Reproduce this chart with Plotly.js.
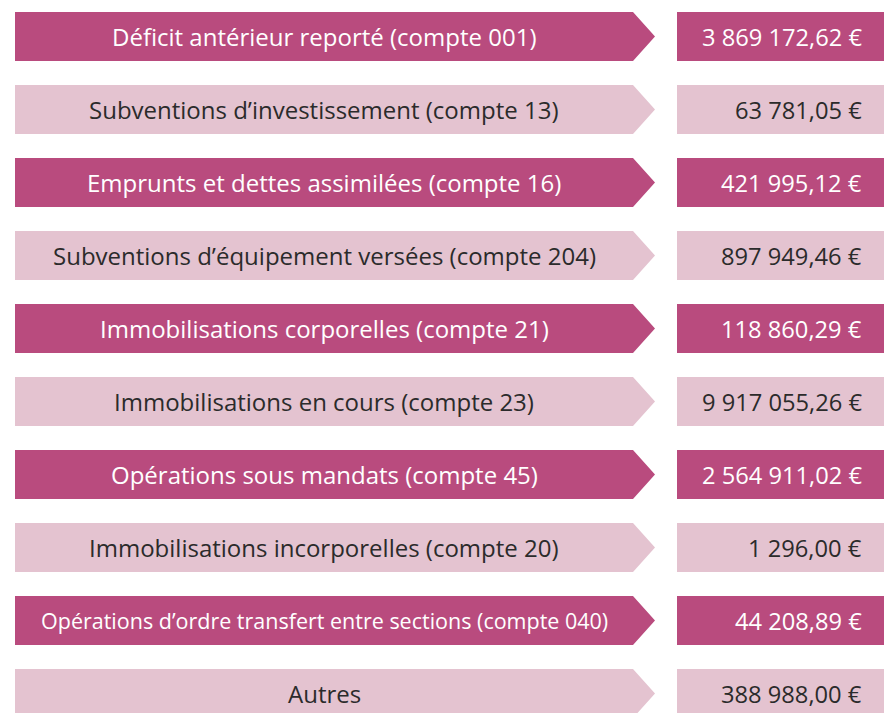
<!DOCTYPE html>
<html><head><meta charset="utf-8">
<script src="https://cdn.plot.ly/plotly-3.0.1.min.js"></script>
<style>html,body{margin:0;padding:0;background:#fff}#chart{width:884px;height:713px}</style>
</head><body><div id="chart"></div>
<script>
const labels = [
  "Déficit antérieur reporté (compte 001)",
  "Subventions d’investissement (compte 13)",
  "Emprunts et dettes assimilées (compte 16)",
  "Subventions d’équipement versées (compte 204)",
  "Immobilisations corporelles (compte 21)",
  "Immobilisations en cours (compte 23)",
  "Opérations sous mandats (compte 45)",
  "Immobilisations incorporelles (compte 20)",
  "Opérations d’ordre transfert entre sections (compte 040)",
  "Autres"
];
const values = [3869172.62, 63781.05, 421995.12, 897949.46, 118860.29, 9917055.26, 2564911.02, 1296.00, 44208.89, 388988.00];

const DARK = "rgb(185,75,126)", LIGHT = "rgb(228,195,208)";
const FONT = "Open Sans, sans-serif";
function fmt(v){
  const parts = v.toFixed(2).split(".");
  const int = parts[0].replace(/\B(?=(\d{3})+(?!\d))/g, " ");
  return int + "," + parts[1] + " €";
}
const idx = labels.map((_, i) => i);
const isDark = i => i % 2 === 0;
const H = 49/73;
const L0 = 15, BODY = 633, TIP = 655, V0 = 677, V1 = 884;

const traces = [];
[true, false].forEach(dark => {
  const ys = idx.filter(i => isDark(i) === dark);
  const col = dark ? DARK : LIGHT;
  traces.push({type:"bar", orientation:"h", y: ys, x: ys.map(() => BODY - L0), base: L0,
    width: H, marker:{color: col, line:{width:0}}, hoverinfo:"skip"});
  traces.push({type:"bar", orientation:"h", y: ys, x: ys.map(() => V1 - V0), base: V0,
    width: H, marker:{color: col, line:{width:0}}, hoverinfo:"skip"});
  const tx = [], ty = [];
  ys.forEach(i => { tx.push(BODY, TIP, BODY, BODY, null); ty.push(i - H/2, i, i + H/2, i - H/2, null); });
  traces.push({type:"scatter", mode:"lines", x: tx, y: ty, fill:"toself", fillcolor: col,
    line:{width:0, color: col}, hoverinfo:"skip"});
});

const annotations = [];
idx.forEach(i => {
  const tc = isDark(i) ? "#ffffff" : "#2b2b2b";
  annotations.push({x:(L0+BODY)/2, y:i, xref:"x", yref:"y", text: labels[i], showarrow:false,
    xanchor:"center", yanchor:"middle", font:{family:FONT, size: i === 8 ? 21.5 : 24, color: tc}});
  annotations.push({x:864, y:i, xref:"x", yref:"y", text: fmt(values[i]), showarrow:false,
    xanchor:"right", yanchor:"middle", font:{family:FONT, size:23.7, color: tc}});
});

const layout = {
  width:884, height:713, margin:{l:0,r:0,t:0,b:0},
  paper_bgcolor:"#fff", plot_bgcolor:"#fff", showlegend:false, barmode:"overlay",
  xaxis:{range:[0,884], visible:false, fixedrange:true},
  yaxis:{range:[(713-36.5)/73, -0.5], visible:false, fixedrange:true},
  annotations: annotations
};
Plotly.newPlot("chart", traces, layout, {staticPlot:true, displayModeBar:false});
</script></body></html>
